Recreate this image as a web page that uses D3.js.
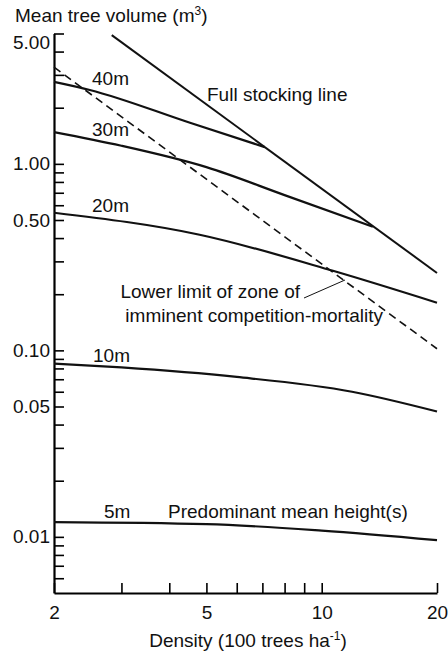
<!DOCTYPE html>
<html>
<head>
<meta charset="utf-8">
<script src="https://cdn.jsdelivr.net/npm/d3@7"></script>
<style>
  body { margin: 0; background: #fff; }
  text { font-family: "Liberation Sans", Arial, sans-serif; fill: #111; }
</style>
</head>
<body>
<svg id="chart" width="448" height="654"></svg>
<script>
"use strict"

// Density (100 trees/ha) vs mean tree volume (m3)
const height40 = [[2, 2.75], [2.48, 2.49], [4.53, 1.66], [7.1, 1.23]]
const height30 = [[2, 1.48], [3, 1.25], [5, 0.96], [8, 0.68], [13.6, 0.46]]
const height20 = [[2, 0.547], [4.8, 0.417], [10.7, 0.267], [20, 0.18]]
const height10 = [[2, 0.085], [3, 0.081], [6, 0.072], [12, 0.06], [20, 0.047]]
const height5 = [[2, 0.012], [5, 0.0117], [10, 0.0108], [20, 0.0096]]
const fullStocking = [[2.83, 4.9], [20, 0.26]]
const lowerLimit = [[2, 3.3], [20, 0.102]]

const heightCurves = [height40, height30, height20, height10, height5]

// tick values
const xTicks = [2, 3, 4, 5, 6, 7, 8, 9, 10, 20]
const xLabels = [2, 5, 10, 20]
const yTicks = [5, 4, 3, 2, 1, 0.9, 0.8, 0.7, 0.6, 0.5, 0.4, 0.3, 0.2,
	0.1, 0.09, 0.08, 0.07, 0.06, 0.05, 0.04, 0.03, 0.02,
	0.01, 0.009, 0.008, 0.007, 0.006]
const yLabels = [5, 1, 0.5, 0.1, 0.05, 0.01]

const svg = d3.select("#chart")

const margins = {left: 54, top: 33.5, right: 11, bottom: 61}
const width = 448 - margins.left - margins.right
const height = 654 - margins.top - margins.bottom

const xScale = d3.scaleLog().domain([2, 20]).range([0, width])
const yScale = d3.scaleLog().domain([0.005, 5]).range([height, 0])

const g = svg.append("g")
	.attr("transform", "translate(" + margins.left + "," + margins.top + ")")

// Axes, ticks pointing inward
const xAxis = d3.axisBottom(xScale)
	.tickValues(xTicks)
	.tickSizeInner(-10)
	.tickSizeOuter(0)
	.tickPadding(13)
	.tickFormat(d => xLabels.includes(d) ? d : "")

const yAxis = d3.axisLeft(yScale)
	.tickValues(yTicks)
	.tickSizeInner(-10)
	.tickSizeOuter(0)
	.tickPadding(4)
	.tickFormat(d => yLabels.includes(d) ? d3.format(".2f")(d) : "")

g.append("g")
	.attr("transform", "translate(0," + height + ")")
	.call(xAxis)
	.call(a => a.select(".domain").attr("stroke-width", 2.2))
	.call(a => a.selectAll(".tick line").attr("stroke-width", 1.6))
	.call(a => a.selectAll("text").style("font-size", "19px").attr("fill", "#111"))

g.append("g")
	.call(yAxis)
	.call(a => a.select(".domain").attr("stroke-width", 2.2))
	.call(a => a.selectAll(".tick line").attr("stroke-width", 1.6))
	.call(a => a.selectAll("text").style("font-size", "19px").attr("fill", "#111"))
	// top label sits a little below its tick, under the title
	.call(a => a.selectAll(".tick text").filter(d => d === 5).attr("y", 9))

const line = d3.line()
	.x(d => xScale(d[0]))
	.y(d => yScale(d[1]))
	.curve(d3.curveMonotoneX)

g.selectAll(".height-curve")
	.data(heightCurves)
	.enter()
	.append("path")
	.attr("class", "height-curve")
	.attr("d", line)
	.attr("fill", "none")
	.attr("stroke", "#111")
	.attr("stroke-width", 2.2)

g.append("path")
	.datum(fullStocking)
	.attr("d", line)
	.attr("fill", "none")
	.attr("stroke", "#111")
	.attr("stroke-width", 2)

g.append("path")
	.datum(lowerLimit)
	.attr("d", line)
	.attr("fill", "none")
	.attr("stroke", "#111")
	.attr("stroke-width", 1.6)
	.attr("stroke-dasharray", "8,5")

// Curve labels
const labels = [
	{t: "40m", x: 92, y: 85},
	{t: "30m", x: 92, y: 136},
	{t: "20m", x: 92, y: 212},
	{t: "10m", x: 93, y: 362},
	{t: "5m", x: 104, y: 518},
	{t: "Predominant mean height(s)", x: 168, y: 518},
	{t: "Full stocking line", x: 207, y: 101}
]
svg.selectAll(".lab")
	.data(labels)
	.enter()
	.append("text")
	.attr("class", "lab")
	.attr("x", d => d.x)
	.attr("y", d => d.y)
	.style("font-size", "19px")
	.text(d => d.t)

svg.append("text")
	.attr("x", 300).attr("y", 298)
	.attr("text-anchor", "end")
	.style("font-size", "19px")
	.text("Lower limit of zone of")
svg.append("text")
	.attr("x", 383).attr("y", 322)
	.attr("text-anchor", "end")
	.style("font-size", "19px")
	.text("imminent competition-mortality")
svg.append("line")
	.attr("x1", 304).attr("y1", 298)
	.attr("x2", 345).attr("y2", 280)
	.attr("stroke", "#111")
	.attr("stroke-width", 1)

// Axis titles
const yTitle = svg.append("text")
	.attr("x", 15).attr("y", 22)
	.style("font-size", "19px")
yTitle.append("tspan").text("Mean tree volume (m")
yTitle.append("tspan").attr("dy", -7).style("font-size", "12px").text("3")
yTitle.append("tspan").attr("dy", 7).text(")")

const xTitle = svg.append("text")
	.attr("x", 248).attr("y", 647)
	.attr("text-anchor", "middle")
	.style("font-size", "19px")
xTitle.append("tspan").text("Density (100 trees ha")
xTitle.append("tspan").attr("dy", -7).style("font-size", "12px").text("-1")
xTitle.append("tspan").attr("dy", 7).text(")")
</script>
</body>
</html>
